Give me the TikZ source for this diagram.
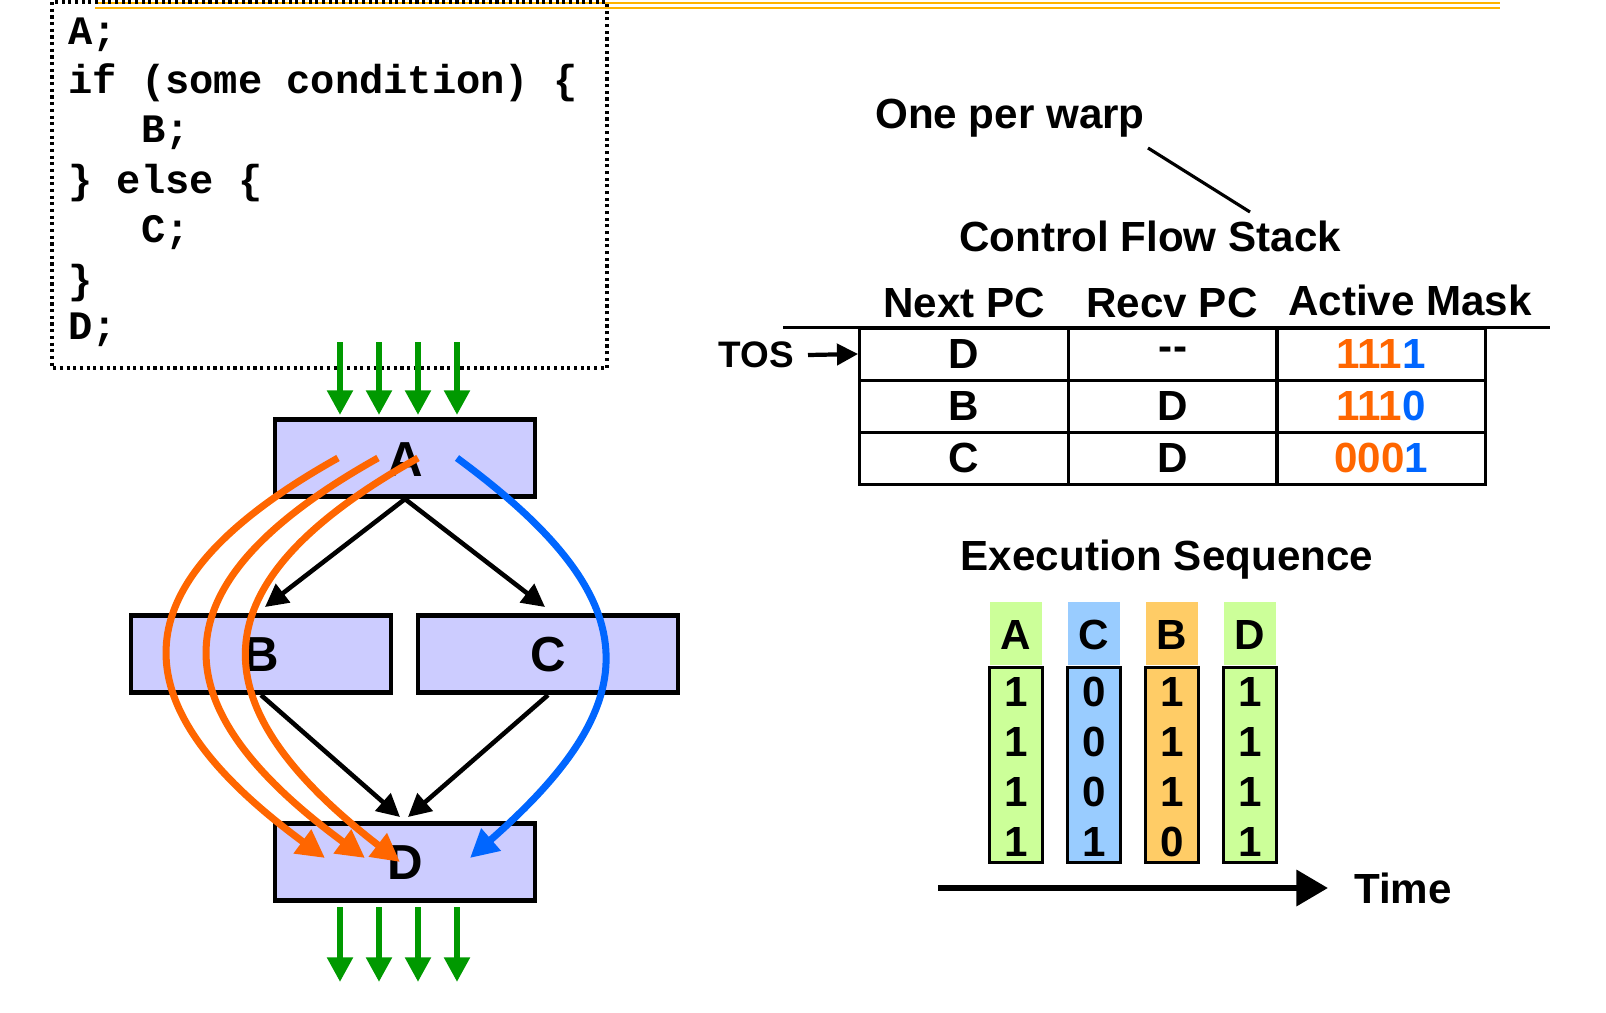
\documentclass[tikz,border=0pt]{standalone}
\usepackage{fontspec}
\setmainfont{Liberation Sans}
\setmonofont{Liberation Mono}
\usetikzlibrary{arrows.meta,calc}
\definecolor{lav}{HTML}{CCCCFF}
\definecolor{orng}{HTML}{FF6600}
\definecolor{blu}{HTML}{0066FF}
\definecolor{grn}{HTML}{009900}
\definecolor{gold}{HTML}{FFB300}
\definecolor{lgrn}{HTML}{CCFF99}
\definecolor{lblu}{HTML}{99CCFF}
\definecolor{lorg}{HTML}{FFCC66}

\begin{document}
\begin{tikzpicture}[x=0.02cm,y=-0.02cm]
      \tikzset{block/.style={draw,line width=2.6pt,fill=lav,minimum width=5.2cm,
          minimum height=1.55cm,inner sep=0pt},
        lbl/.style={font=\bfseries\fontsize{24}{28}\selectfont},
        code/.style={font=\ttfamily\bfseries\fontsize{23}{28}\selectfont,anchor=west,inner sep=0pt},
        warp/.style={-{Triangle[length=14pt,width=14pt]},line width=3.6pt,grn},
        flow/.style={-{Triangle[length=13pt,width=13pt]},line width=2.6pt},
        thread/.style={-{Triangle[length=16pt,width=16pt]},line width=4pt},
        cell/.style={draw,line width=1.7pt,minimum width=4.18cm,minimum height=1.04cm,
          inner sep=0pt,font=\bfseries\fontsize{24}{28}\selectfont},
        lane/.style={draw,line width=1.7pt,minimum width=1.06cm,minimum height=3.9cm,inner sep=0pt}
      }
      \useasboundingbox (0,0) rectangle (1606,1012);
      % top rule
      \draw[gold,line width=1.6pt] (95,3) -- (1500,3);
      \draw[gold,line width=1.6pt] (95,8) -- (1500,8);
      % code
      \draw[dotted,line width=1.8pt] (52,2) rectangle (607,368);
      \node[code] at (68,35) {A;};
      \node[code] at (68,83) {if (some condition) \{};
      \node[code] at (141,133) {B;};
      \node[code] at (68,183) {\} else \{};
      \node[code] at (141,233) {C;};
      \node[code] at (68,283) {\}};
      \node[code] at (68,330) {D;};
      % control flow graph
      \node[block] (A) at (405,458) {};
      \node[block] (B) at (261,654) {};
      \node[block] (C) at (548,654) {};
      \node[block] (D) at (405,862) {};
      \node[lbl,font=\bfseries\fontsize{28}{32}\selectfont] at (405,460) {A};
      \node[lbl,font=\bfseries\fontsize{28}{32}\selectfont] at (261,655) {B};
      \node[lbl,font=\bfseries\fontsize{28}{32}\selectfont] at (548,655) {C};
      \node[lbl,font=\bfseries\fontsize{28}{32}\selectfont] at (405,863) {D};
      \foreach \x in {340,379,418,457} {
        \draw[warp] (\x,342) -- (\x,415);
        \draw[warp] (\x,907) -- (\x,982);
      }
      \draw[flow] (A.south) -- (265,607);
      \draw[flow] (A.south) -- (545,607);
      \draw[flow] (B.south) -- (400,817);
      \draw[flow] (C.south) -- (408,817);
      \draw[thread,orng] (338,458) .. controls (120,580) and (110,700) .. (325,858);
      \draw[thread,orng] (378,458) .. controls (160,580) and (150,700) .. (365,858);
      \draw[thread,orng] (418,458) .. controls (200,580) and (190,700) .. (400,862);
      \draw[thread,blu] (457,458) .. controls (650,600) and (650,700) .. (470,858);
      % stack
      \node[lbl] (warp) at (1010,118) {One per warp};
      \node[lbl] (cfs) at (1150,236) {Control Flow Stack};
      \draw[line width=1.8pt] (1148,148) -- (1250,212);
      \node[lbl] at (964,303) {Next PC};
      \node[lbl] at (1172,303) {Recv PC};
      \node[lbl] at (1410,300) {Active Mask};
      \draw[line width=1.7pt] (783,327) -- (1550,327);
      \node[cell] (n1) at (964,354) {D};
      \node[cell] (r1) at (1173,354) {-{}-};
      \node[cell] (m1) at (1381,354) {\textcolor{orng}{111}\textcolor{blu}{1}};
      \node[cell] (n2) at (964,406) {B};
      \node[cell] (r2) at (1173,406) {D};
      \node[cell] (m2) at (1381,406) {\textcolor{orng}{111}\textcolor{blu}{0}};
      \node[cell] (n3) at (964,458) {C};
      \node[cell] (r3) at (1173,458) {D};
      \node[cell] (m3) at (1381,458) {\textcolor{orng}{000}\textcolor{blu}{1}};
      \node[lbl,font=\bfseries\fontsize{21}{24}\selectfont,anchor=east] (tos) at (800,355) {TOS};
      \draw[-{Triangle[length=12pt,width=12pt]},line width=2.4pt] (tos.east) ++(8,0) -- (n1.west);
      % execution sequence
      \node[lbl] at (1167,560) {Execution Sequence};
      \foreach \name/\x/\col/\bits in {A/1016/lgrn/{1,1,1,1},C/1094/lblu/{0,0,0,1},B/1172/lorg/{1,1,1,0},D/1250/lgrn/{1,1,1,1}} {
        \fill[\col] (\x-26,602) rectangle (\x+26,665);
        \node[lbl] at (\x,635) {\name};
        \node[lane,fill=\col] (lane\name) at (\x,765) {};
        \foreach \b [count=\i] in \bits
          \node[lbl] at (\x,642+50*\i) {\b};
      }
      \draw[-{Triangle[length=18pt,width=20pt]},line width=3.6pt] (938,888) -- (1328,888);
      \node[lbl] at (1403,888) {Time};
\end{tikzpicture}
\end{document}
